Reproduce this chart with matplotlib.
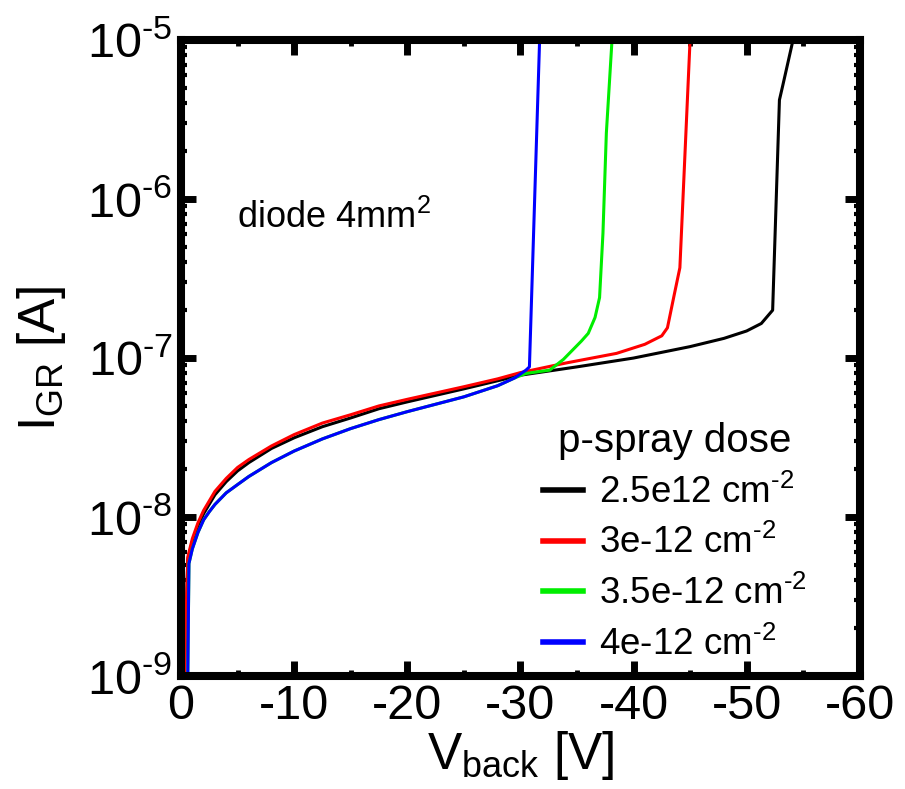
import math
import matplotlib
matplotlib.use("Agg")
import matplotlib.pyplot as plt
from matplotlib.ticker import LogLocator, MultipleLocator, FuncFormatter

plt.rcParams['font.family'] = ['Liberation Sans', 'DejaVu Sans']
plt.rcParams['mathtext.fontset'] = 'custom'
plt.rcParams['mathtext.rm'] = 'Liberation Sans'
plt.rcParams['mathtext.it'] = 'Liberation Sans:italic'
plt.rcParams['mathtext.bf'] = 'Liberation Sans:bold'
plt.rcParams['axes.unicode_minus'] = False

# back voltage [V] and guard ring current [A] for each p-spray dose
v_25 = [-0.3, -0.6, -1, -1.5, -2, -3, -4, -5, -6, -8, -10, -12.5, -15, -17.5, -20,
        -25, -28, -30, -35, -40, -45, -48, -50, -51.3, -52.3, -52.9, -53.2, -54.1]
i_25 = [1e-9, 5.4e-9, 7e-9, 8.8e-9, 1.05e-8, 1.38e-8, 1.67e-8, 1.95e-8, 2.2e-8,
        2.7e-8, 3.15e-8, 3.7e-8, 4.2e-8, 4.8e-8, 5.3e-8, 6.4e-8, 7.2e-8, 7.8e-8,
        8.8e-8, 1.0e-7, 1.18e-7, 1.33e-7, 1.48e-7, 1.65e-7, 2.0e-7, 4.2e-6, 5.2e-6, 1e-5]

v_30 = [-0.3, -0.6, -1, -1.5, -2, -3, -4, -5, -6, -8, -10, -12.5, -15, -17.5, -20,
        -25, -28, -30, -34, -38.5, -41, -42.5, -43, -43.6, -44.1, -44.5, -45]
i_30 = [1e-9, 5.6e-9, 7.3e-9, 9.2e-9, 1.1e-8, 1.45e-8, 1.75e-8, 2.05e-8, 2.3e-8,
        2.8e-8, 3.3e-8, 3.9e-8, 4.4e-8, 5.0e-8, 5.5e-8, 6.6e-8, 7.4e-8, 8.1e-8,
        9.3e-8, 1.07e-7, 1.22e-7, 1.38e-7, 1.55e-7, 2.5e-7, 3.7e-7, 1.6e-6, 1e-5]

v_35 = [-0.6, -0.7, -1, -1.5, -2, -2.5, -3, -4, -5, -6, -8, -10, -12.5, -15, -17.5,
        -20, -25, -28, -29.5, -30.5, -32.6, -33.8, -34.6, -35.4, -36, -36.6, -37,
        -37.3, -37.6, -38.1]
i_35 = [1e-9, 5.1e-9, 6.3e-9, 8e-9, 9.6e-9, 1.08e-8, 1.2e-8, 1.42e-8, 1.6e-8,
        1.8e-8, 2.2e-8, 2.6e-8, 3.1e-8, 3.6e-8, 4.1e-8, 4.6e-8, 5.7e-8, 6.7e-8,
        7.5e-8, 8.0e-8, 8.4e-8, 9.8e-8, 1.12e-7, 1.28e-7, 1.43e-7, 1.8e-7, 2.4e-7,
        6.1e-7, 2.6e-6, 1e-5]

v_40 = [-0.6, -0.7, -1, -1.5, -2, -2.5, -3, -4, -5, -6, -8, -10, -12.5, -15, -17.5,
        -20, -25, -28, -29.5, -30.5, -30.8, -31.7]
i_40 = [1e-9, 5.1e-9, 6.3e-9, 8e-9, 9.6e-9, 1.08e-8, 1.2e-8, 1.42e-8, 1.6e-8,
        1.8e-8, 2.2e-8, 2.6e-8, 3.1e-8, 3.6e-8, 4.1e-8, 4.6e-8, 5.7e-8, 6.7e-8,
        7.5e-8, 8.4e-8, 8.8e-8, 1e-5]

labels = [r'2.5e12 cm$^{\text{-2}}$', r'3e-12 cm$^{\text{-2}}$',
          r'3.5e-12 cm$^{\text{-2}}$', r'4e-12 cm$^{\text{-2}}$']
colors = ['#000000', '#ff0000', '#00ee00', '#0000ff']


def decade_label(y, pos):
    return r'10$^{\text{%d}}$' % round(math.log10(y))


fig = plt.figure(figsize=(9.05, 7.89), dpi=100)
ax = fig.add_axes([0.200, 0.1432, 0.750, 0.806])

for v, i, lab, c in zip([v_25, v_30, v_35, v_40], [i_25, i_30, i_35, i_40], labels, colors):
    ax.plot(v, i, color=c, lw=2.2, label=lab)

ax.set_yscale('log')
ax.set_xlim(0, -60)
ax.set_ylim(1e-9, 1e-5)

ax.xaxis.set_major_locator(MultipleLocator(10))
ax.xaxis.set_minor_locator(MultipleLocator(5))
ax.yaxis.set_major_locator(LogLocator(base=10, numticks=10))
ax.yaxis.set_minor_locator(LogLocator(base=10, subs=range(2, 10), numticks=20))
ax.yaxis.set_major_formatter(FuncFormatter(decade_label))

for s in ax.spines.values():
    s.set_linewidth(5.8)

ax.tick_params(which='both', direction='in', top=True, right=True)
ax.tick_params(which='major', length=11, width=5, labelsize=35, pad=6)
ax.tick_params(which='minor', length=4.5, width=3.5)
ax.tick_params(axis='y', which='minor', length=4.5, width=3)

ax.set_xlabel(r'V$_{\mathrm{back}}$ [V]', fontsize=37, labelpad=0)
ax.set_ylabel(r'I$_{\mathrm{GR}}$ [A]', fontsize=37, labelpad=14)

ax.text(0.082, 0.704, r'diode 4mm$^{2}$', transform=ax.transAxes, fontsize=26,
        ha='left', va='baseline')

leg = ax.legend(title='p-spray dose', loc='lower left', bbox_to_anchor=(0.533, 0.02),
                frameon=False, fontsize=26.5, title_fontsize=29, handlelength=1.08,
                handletextpad=0.46, labelspacing=0.4, borderpad=0, borderaxespad=0)
for line in leg.get_lines():
    line.set_linewidth(4)

fig.savefig('out.png', dpi=100)
